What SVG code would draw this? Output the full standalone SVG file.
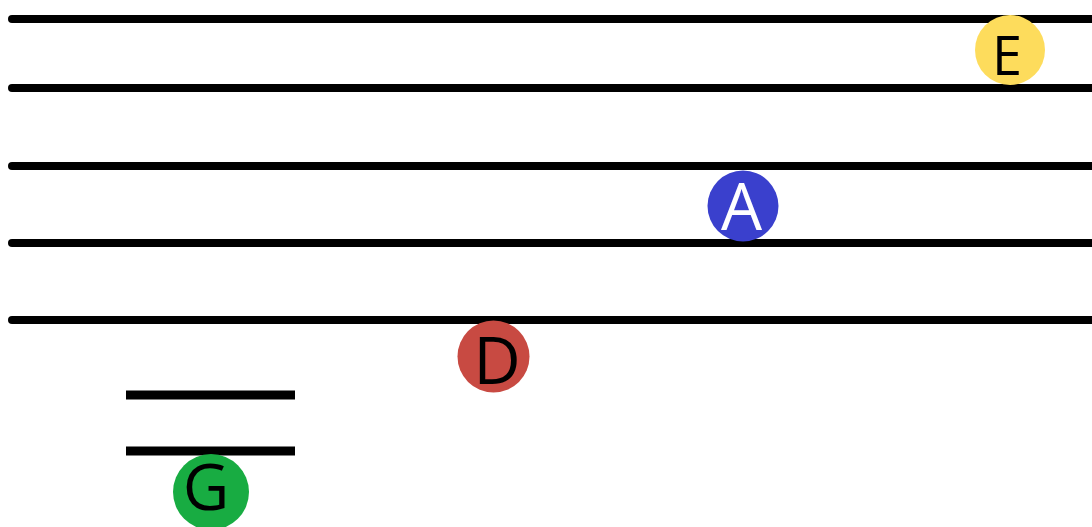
<svg xmlns="http://www.w3.org/2000/svg" width="1092" height="527" viewBox="0 0 1092 527">
<style>
.staff{stroke:#000;stroke-width:8;stroke-linecap:round;fill:none}
.ledger{stroke:#000;stroke-width:9;stroke-linecap:butt;fill:none}
.lbl{font-family:"Open Sans","Noto Sans",sans-serif;text-anchor:middle;dominant-baseline:central}
</style>
<rect width="1092" height="527" fill="#fff"/>
<g id="connectors">
<line class="staff" x1="12" y1="19" x2="1100" y2="19"/>
<line class="staff" x1="12" y1="88" x2="1100" y2="88"/>
<line class="staff" x1="12" y1="166" x2="1100" y2="166"/>
<line class="staff" x1="12" y1="243" x2="1100" y2="243"/>
<line class="staff" x1="12" y1="320" x2="1100" y2="320"/>
<line class="ledger" x1="126" y1="395" x2="295" y2="395"/>
<line class="ledger" x1="126" y1="451" x2="295" y2="451"/>
</g>
<g id="E">
<circle cx="1010" cy="50" r="35" fill="#FDDC5C"/>
<text class="lbl" x="1007" y="54" font-size="54" fill="#000">E</text>
</g>
<g id="A">
<circle cx="743" cy="206" r="35.5" fill="#3A40CD"/>
<text class="lbl" x="741.5" y="205" font-size="65" fill="#fff">A</text>
</g>
<g id="D">
<circle cx="493.5" cy="356.5" r="36" fill="#C84A42"/>
<text class="lbl" x="497" y="359" font-size="65" fill="#000">D</text>
</g>
<g id="G">
<circle cx="211" cy="492" r="38" fill="#18AC42"/>
<text class="lbl" x="206" y="485" font-size="64" fill="#000">G</text>
</g>
</svg>
